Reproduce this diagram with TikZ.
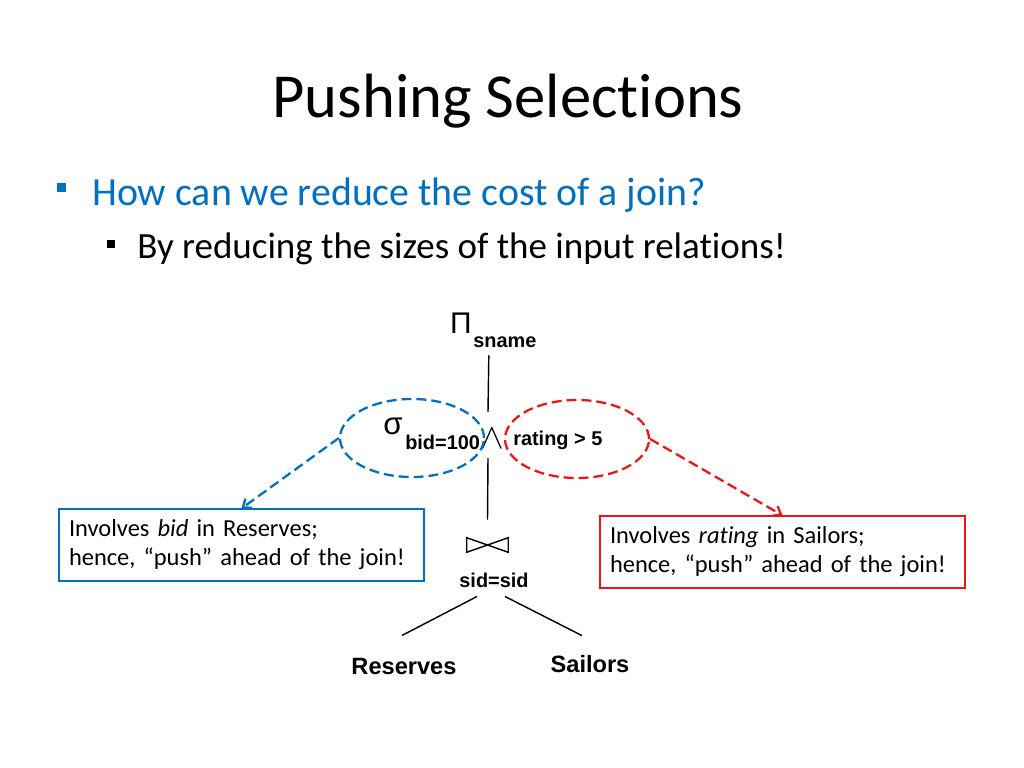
\documentclass[tikz,border=0pt]{standalone}
\usepackage{fontspec}
\setmainfont{Carlito}[RawFeature=-liga]
\newfontfamily\arialfont{Liberation Sans}
\usetikzlibrary{arrows.meta,positioning,shapes.geometric}
\definecolor{slideblue}{RGB}{0,112,192}
\definecolor{slidered}{RGB}{240,20,20}
\def\px{0.703pt}

\begin{document}
\begin{tikzpicture}[
  x=0.703pt, y=-0.703pt,
  title/.style={font=\fontsize{44}{52}\selectfont, inner sep=0pt, anchor=base},
  lvlone/.style={font=\fontsize{28}{34}\selectfont, text=slideblue, inner sep=0pt, anchor=base west},
  lvltwo/.style={font=\fontsize{26}{31}\selectfont, inner sep=0pt, anchor=base west},
  sq/.style={rectangle, inner sep=0pt, minimum size=#1*\px},
  opsym/.style={font=\arialfont\fontsize{21}{24}\selectfont, inner sep=0pt},
  cond/.style={font=\arialfont\bfseries\fontsize{14}{17}\selectfont, inner sep=0pt, anchor=base west},
  rel/.style={font=\arialfont\bfseries\fontsize{16.6}{20}\selectfont, inner sep=0pt, anchor=base},
  edge/.style={draw=black, line width=1pt},
  selring/.style={ellipse, draw=#1, dashed, dash pattern=on 7pt off 3.5pt, line width=1.6pt,
                  minimum width=144*\px, minimum height=78*\px, inner sep=0pt},
  pushto/.style={draw=#1, dashed, dash pattern=on 7pt off 3.5pt, line width=1.6pt,
                 -{Straight Barb[length=5pt,width=8pt,line width=1.6pt]}},
  note/.style={rectangle, draw=#1, line width=0.8pt, minimum width=363*\px, minimum height=72*\px,
               text width=345*\px, align=left, inner xsep=10*\px,
               font=\fontsize{17.2}{20.4}\selectfont},
]
\useasboundingbox (0,0) rectangle (1024,768);

% title and bullets
\node[title] (ttl) at (508,117) {Pushing Selections};
\node[lvlone] (q) at (92,205) {How can we reduce the cost of a join?};
\node[sq=9, fill=slideblue] (qsq) at (61.5,187.5) {};
\node[lvltwo] (a) at (137,258) {By reducing the sizes of the input relations!};
\node[sq=8, fill=black] (asq) at (111,244) {};

% query tree
\node[opsym] (pi) at (461,323) {Π};
\node[cond] (sname) at (473,347) {sname};
\node[opsym, font=\arialfont\fontsize{22}{24}\selectfont] (sigma) at (393,426) {σ};
\node[cond] (bid) at (405,449) {bid=100};
\node[inner sep=0pt, font=\fontsize{30}{30}\selectfont] (and) at (492,439) {$\wedge$};
\node[cond] (rating) at (513,445) {rating > 5};

\node[minimum width=41*\px, minimum height=14*\px, inner sep=0pt] (join) at (487.5,545) {};
\draw[line width=1pt] (join.north west) -- (join.south east) -- (join.north east)
  -- (join.south west) -- cycle;
\node[cond, anchor=base] (jcond) at (494,587) {sid=sid};

\node[rel] (res) at (404,674) {Reserves};
\node[rel] (sai) at (590,672) {Sailors};

\draw[edge] ([shift={(-16,8)}]sname.south) -- ([shift={(-4,-17)}]and.north);
\draw[edge] ([shift={(-4,9)}]and.south) -- ([shift={(0,-18)}]join.north);
\draw[edge] ([shift={(-17,9)}]jcond.south) -- ([shift={(-2,-22)}]res.north);
\draw[edge] ([shift={(11,9)}]jcond.south) -- ([shift={(-8,-19)}]sai.north);

% the two selections and where they go
\node[selring=slideblue] (bsel) at (412,438) {};
\node[selring=slidered] (rsel) at (577,439) {};

\node[note=slideblue] (lnote) at (241.5,545)
  {Involves \textit{bid} in Reserves;\\hence, “push” ahead of the join!};
\node[note=slidered] (rnote) at (782.5,552)
  {Involves \textit{rating} in Sailors;\\hence, “push” ahead of the join!};

\draw[pushto=slideblue] (bsel.west) -- (lnote.north);
\draw[pushto=slidered] (rsel.east) -- (rnote.north);
\end{tikzpicture}
\end{document}
